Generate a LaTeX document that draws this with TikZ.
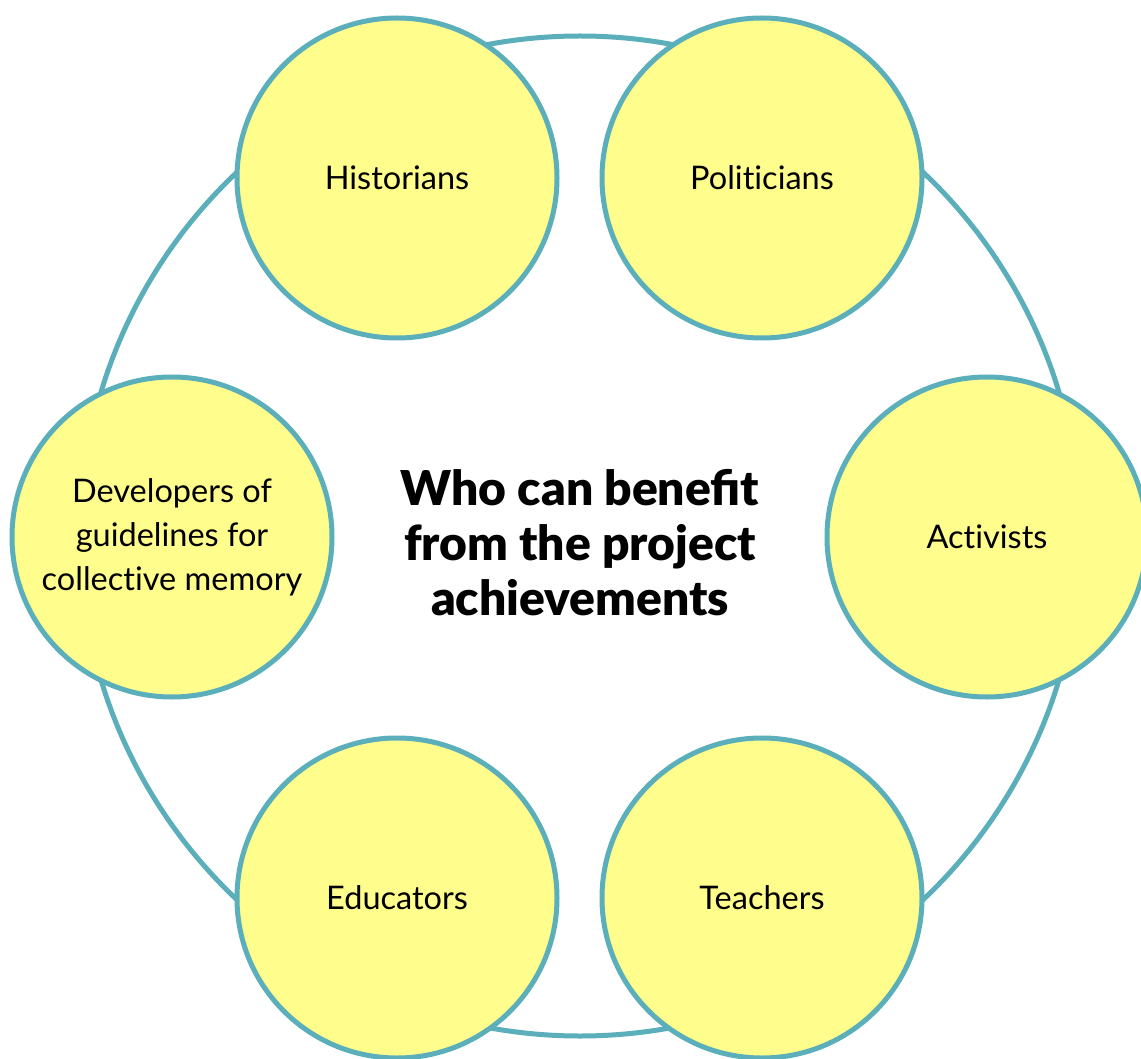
\documentclass[tikz,border=0pt]{standalone}
\usepackage{fontspec}
\setmainfont{Lato}[BoldFont={Lato Black}]
\definecolor{ringline}{HTML}{5BAFBA}
\definecolor{bubble}{HTML}{FFFD8C}
\begin{document}
\begin{tikzpicture}[x=1pt,y=-1pt,
  ring/.style={circle,draw=ringline,line width=5pt,minimum size=1000pt,inner sep=0pt},
  bubblenode/.style={circle,draw=ringline,fill=bubble,line width=5pt,
    minimum size=320pt,inner sep=0pt,align=center,
    font=\addfontfeatures{Ligatures=NoCommon}\fontsize{32.5}{44}\selectfont},
  titletext/.style={align=center,font=\bfseries\fontsize{48}{55}\selectfont}]
\useasboundingbox (0,0) rectangle (1141,1059);
\clip (0,0) rectangle (1141,1059);
\fill[white] (0,0) rectangle (1141,1059);
% outer ring behind the bubbles
\node[ring] (ring) at (580,536) {};
% the six audience bubbles
\node[bubblenode] (hist) at (397,178) {Historians};
\node[bubblenode] (pol) at (762,178) {Politicians};
\node[bubblenode] (act) at (987,537) {Activists};
\node[bubblenode] (teach) at (762,898) {Teachers};
\node[bubblenode] (edu) at (397,898) {Educators};
\node[bubblenode] (dev) at (172,537) {Developers of\\guidelines for\\collective memory};
% central heading
\node[titletext] (title) at (580,543) {Who can benefit\\from the project\\achievements};
\end{tikzpicture}
\end{document}
